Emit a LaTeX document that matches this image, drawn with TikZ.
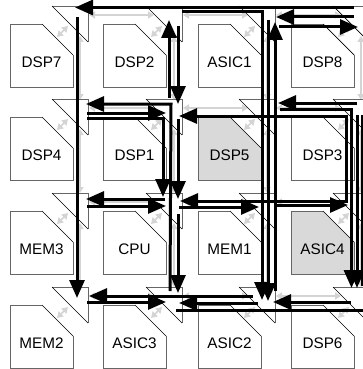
\documentclass[tikz,border=0pt]{standalone}
\usepackage{fontspec}
\setmainfont{Liberation Sans}
\usetikzlibrary{arrows.meta}
\tikzset{
  x=1pt,y=-1pt,
  wire/.style={line width=3pt,black,line join=miter},
  wirearrow/.style={wire,-{Triangle[length=18pt,width=15pt]}},
  wireboth/.style={wire,{Triangle[length=18pt,width=15pt]}-{Triangle[length=18pt,width=15pt]}},
  link/.style={line width=1.6pt,black!17,{Triangle[length=6pt,width=7pt]}-{Triangle[length=6pt,width=7pt]}},
  blocklabel/.style={font=\fontsize{15.3}{18}\selectfont,text=black,inner sep=0pt},
  edge/.style={line width=.9pt,black!60},
  cut/.style={line width=.7pt,black},
}
\newcommand{\pblock}[4]{%
  \fill[#3] (#1,#2) -- (#1+32,#2) -- (#1+63,#2+31) -- (#1+63,#2+63) -- (#1,#2+63) -- cycle;
  \draw[edge] (#1+32,#2) -- (#1,#2) -- (#1,#2+63) -- (#1+63,#2+63) -- (#1+63,#2+31);
  \draw[cut] (#1+32,#2) -- (#1+63,#2+31);
  \node[blocklabel] (b#4) at (#1+31.5,#2+38) {#4};
}
\begin{document}
\begin{tikzpicture}
\useasboundingbox (0,0) rectangle (363,369);
\fill[white] (0,0) rectangle (363,369);
% gray links
\foreach \x in {52,146,239,333}{
  \foreach \y in {6,99,193,287}{
    \draw[link] (\x+5,\y+31) -- (\x+16,\y+20);
  }
  \foreach \y in {6,99,193}{
    \draw[link] (\x+28,\y+30) -- (\x+28,\y+94);
  }
}
\foreach \y in {6,99,193,287}{
  \foreach \x in {52,146,239}{
    \draw[link] (\x+37,\y+9) -- (\x+102,\y+9);
  }
}
% blocks
\pblock{10}{24}{white}{DSP7}
\pblock{103}{24}{white}{DSP2}
\pblock{198}{24}{white}{ASIC1}
\pblock{291}{24}{white}{DSP8}
\pblock{10}{117}{white}{DSP4}
\pblock{103}{117}{white}{DSP1}
\pblock{198}{117}{black!15}{DSP5}
\pblock{291}{117}{white}{DSP3}
\pblock{10}{211}{white}{MEM3}
\pblock{103}{211}{white}{CPU}
\pblock{198}{211}{white}{MEM1}
\pblock{291}{211}{black!15}{ASIC4}
\pblock{10}{305}{white}{MEM2}
\pblock{103}{305}{white}{ASIC3}
\pblock{198}{305}{white}{ASIC2}
\pblock{291}{305}{white}{DSP6}
% routers
\foreach \x in {52,146,239,333}{
  \foreach \y in {6,99,193,287}{
    \draw[edge] (\x,\y) -- (\x+36,\y) -- (\x+36,\y+36);
    \draw[cut] (\x,\y) -- (\x+36,\y+36);
  }
}
% wire end points
\foreach \n/\x/\y in {
  a1/354/7.5, a2/75/7.5,
  b1/182/12, b2/262/12, b3/262/300,
  c1/178/26, c2/178/104,
  d1/169/98, d2/169/20,
  e1/178/119, e2/178/199,
  f1/178/214, f2/178/293,
  g1/77/17, g2/77/298,
  h1/170/291, h2/171/104, h3/86/104,
  i1/87/113, i2/166/113,
  j1/87/118, j2/163/118, j3/163/197,
  k1/165/199, k2/86/199,
  l1/87/206, l2/166/206,
  m1/253/296, m2/89/296,
  n1/87/302, n2/166/302,
  o1/258/303, o2/179/303,
  p1/351/302, p2/273/302,
  q1/176/310, q2/363/310,
  r1/180/201, r2/346/201, r3/346/116, r4/179/116,
  s1/179/207, s2/259/207,
  t1/276/205, t2/348/205,
  u1/268/20, u2/268/301,
  v1/275/291, v2/275/22,
  w1/354/17, w2/276/17,
  y1/279/27, y2/358/27,
  z1/357/103, z2/278/103,
  aa1/280/109, aa2/351.5/109, aa3/351.5/288,
  ab1/357/115, ab2/357/288,
  ac1/362/115, ac2/362/286%
}{\coordinate (\n) at (\x,\y);}
% wires
\draw[wirearrow] (a1) -- (a2);
\draw[wirearrow] (b1) -- (b2) -- (b3);
\draw[wirearrow] (c1) -- (c2);
\draw[wirearrow] (d1) -- (d2);
\draw[wirearrow] (e1) -- (e2);
\draw[wirearrow] (f1) -- (f2);
\draw[wirearrow] (g1) -- (g2);
\draw[wirearrow] (h1) -- (h2) -- (h3);
\draw[wirearrow] (i1) -- (i2);
\draw[wirearrow] (j1) -- (j2) -- (j3);
\draw[wirearrow] (k1) -- (k2);
\draw[wirearrow] (l1) -- (l2);
\draw[wirearrow] (m1) -- (m2);
\draw[wirearrow] (n1) -- (n2);
\draw[wirearrow] (o1) -- (o2);
\draw[wirearrow] (p1) -- (p2);
\draw[wire] (q1) -- (q2);
\draw[wireboth] (r1) -- (r2) -- (r3) -- (r4);
\draw[wirearrow] (s1) -- (s2);
\draw[wirearrow] (t1) -- (t2);
\draw[wirearrow] (u1) -- (u2);
\draw[wirearrow] (v1) -- (v2);
\draw[wirearrow] (w1) -- (w2);
\draw[wirearrow] (y1) -- (y2);
\draw[wirearrow] (z1) -- (z2);
\draw[wirearrow] (aa1) -- (aa2) -- (aa3);
\draw[wirearrow] (ab1) -- (ab2);
\draw[wire] (ac1) -- (ac2);
\end{tikzpicture}
\end{document}
